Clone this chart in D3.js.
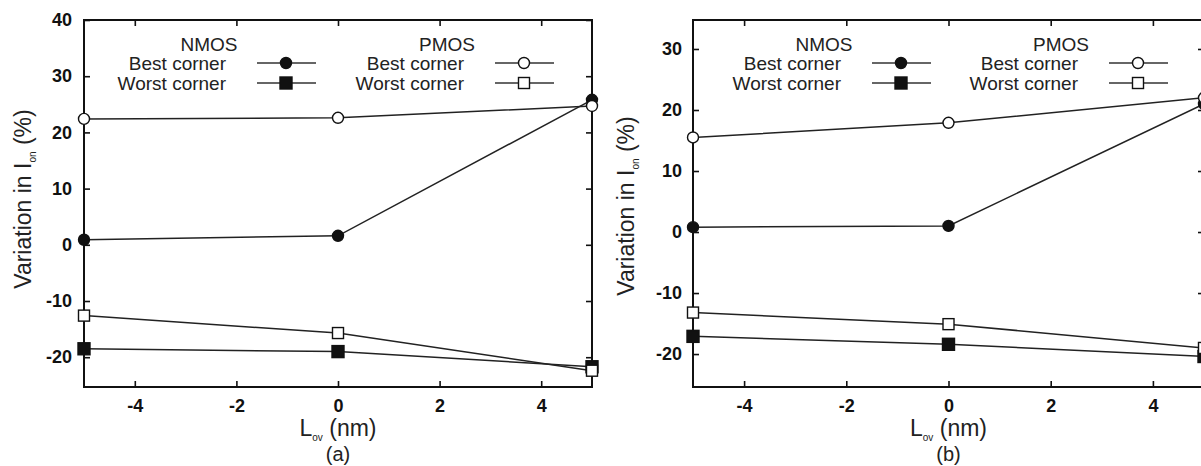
<!DOCTYPE html>
<html>
<head>
<meta charset="utf-8">
<script src="https://cdn.jsdelivr.net/npm/d3@7"></script>
<style>
  body { margin: 0; background: #fff; }
  svg { font-family: "Liberation Sans", Arial, sans-serif; }
  .tick text { font-weight: bold; font-size: 18px; fill: #111; }
</style>
</head>
<body>
<svg id="chart" width="1201" height="466"></svg>
<script>
// L_ov values (nm)
const lov = [-5, 0, 5];
const xTicks = [-4, -2, 0, 2, 4];

// panel (a)
const nmosBestA = [0.9, 1.6, 25.8];
const nmosWorstA = [-18.5, -19.0, -21.7];
const pmosBestA = [22.4, 22.6, 24.7];
const pmosWorstA = [-12.6, -15.7, -22.4];
const yTicksA = [-20, -10, 0, 10, 20, 30, 40];

// panel (b)
const nmosBestB = [0.8, 1.0, 21.0];
const nmosWorstB = [-17.1, -18.4, -20.4];
const pmosBestB = [15.5, 17.9, 22.0];
const pmosWorstB = [-13.2, -15.1, -19.0];
const yTicksB = [-20, -10, 0, 10, 20, 30];

const seriesNames = ["NMOS best", "NMOS worst", "PMOS best", "PMOS worst"];

const svg = d3.select("#chart");
const fmt = d => String(d);   // plain hyphen minus like the original

function drawMarker(g, type, x, y) {
  if (type === "NMOS best" || type === "PMOS best") {
    g.append("circle")
      .attr("cx", x).attr("cy", y).attr("r", 5.5)
      .attr("fill", type === "NMOS best" ? "#111" : "#fff")
      .attr("stroke", "#111").attr("stroke-width", 1.4);
  } else {
    const s = type === "NMOS worst" ? 12 : 11;
    g.append("rect")
      .attr("x", x - s / 2).attr("y", y - s / 2)
      .attr("width", s).attr("height", s)
      .attr("fill", type === "NMOS worst" ? "#111" : "#fff")
      .attr("stroke", "#111").attr("stroke-width", 1.4);
  }
}

function drawPanel(cfg) {
  const x = d3.scaleLinear().domain([-5, 5]).range([cfg.left, cfg.right]);
  const y = d3.scaleLinear().domain(cfg.yDomain).range([cfg.bottom, cfg.top]);
  const g = svg.append("g");

  // inward ticks on all four sides
  g.append("g")
    .attr("transform", `translate(0,${cfg.bottom})`)
    .call(d3.axisBottom(x).tickValues(xTicks).tickSize(-6).tickPadding(12).tickFormat(fmt))
    .call(a => a.select(".domain").remove());
  g.append("g")
    .attr("transform", `translate(0,${cfg.top})`)
    .call(d3.axisTop(x).tickValues(xTicks).tickSize(-6).tickFormat(""))
    .call(a => a.select(".domain").remove());
  g.append("g")
    .attr("transform", `translate(${cfg.left},0)`)
    .call(d3.axisLeft(y).tickValues(cfg.yTicks).tickSize(-6).tickPadding(cfg.yPad).tickFormat(fmt))
    .call(a => a.select(".domain").remove());
  g.append("g")
    .attr("transform", `translate(${cfg.right},0)`)
    .call(d3.axisRight(y).tickValues(cfg.yTicks).tickSize(-6).tickFormat(""))
    .call(a => a.select(".domain").remove());
  g.selectAll(".tick line").attr("stroke", "#111").attr("stroke-width", 1.6);

  g.append("rect")
    .attr("x", cfg.left).attr("y", cfg.top)
    .attr("width", cfg.right - cfg.left).attr("height", cfg.bottom - cfg.top)
    .attr("fill", "none").attr("stroke", "#111").attr("stroke-width", 2);

  const line = d3.line().x((d, i) => x(lov[i])).y(d => y(d));
  const dataG = g.append("g");
  cfg.series.forEach(vals => {
    dataG.append("path")
      .attr("d", line(vals))
      .attr("fill", "none").attr("stroke", "#222").attr("stroke-width", 1.5);
  });
  cfg.series.forEach((vals, k) => {
    vals.forEach((v, i) => drawMarker(dataG, seriesNames[k], x(lov[i]), y(v)));
  });

  // legend
  const lg = g.append("g").attr("font-size", 19).attr("fill", "#222");
  [["NMOS", cfg.nmosX, ["NMOS best", "NMOS worst"]],
   ["PMOS", cfg.pmosX, ["PMOS best", "PMOS worst"]]].forEach(([title, tx, keys]) => {
    lg.append("text").attr("x", tx - 17).attr("y", 51).attr("text-anchor", "middle").text(title);
    ["Best corner", "Worst corner"].forEach((lab, i) => {
      const yy = 63 + i * 20;
      lg.append("text").attr("x", tx).attr("y", yy + 7).attr("text-anchor", "end").text(lab);
      lg.append("line")
        .attr("x1", tx + 31).attr("x2", tx + 90).attr("y1", yy).attr("y2", yy)
        .attr("stroke", "#333").attr("stroke-width", 1.6);
      drawMarker(lg, keys[i], tx + 60, yy);
    });
  });

  // axis titles
  const yl = g.append("text")
    .attr("transform", `translate(${cfg.yLabelX},${cfg.yLabelY}) rotate(-90)`)
    .attr("text-anchor", "middle").attr("font-size", 23).attr("fill", "#222");
  yl.append("tspan").text("Variation in I");
  yl.append("tspan").attr("font-size", 10).attr("dy", 5).text("on");
  yl.append("tspan").attr("dy", -5).text(" (%)");

  const cx = x(0);
  const xl = g.append("text")
    .attr("x", cx).attr("y", 436)
    .attr("text-anchor", "middle").attr("font-size", 23).attr("fill", "#222");
  xl.append("tspan").text("L");
  xl.append("tspan").attr("font-size", 10).attr("dy", 5).text("ov");
  xl.append("tspan").attr("dy", -5).text(" (nm)");

  g.append("text")
    .attr("x", cx).attr("y", 461)
    .attr("text-anchor", "middle").attr("font-size", 20).attr("fill", "#222")
    .text(cfg.caption);
}

drawPanel({
  left: 84, right: 592, top: 20, bottom: 387,
  yDomain: [-25.3, 40], yTicks: yTicksA, yPad: 12,
  series: [nmosBestA, nmosWorstA, pmosBestA, pmosWorstA],
  nmosX: 226, pmosX: 464, yLabelX: 31, yLabelY: 199, caption: "(a)"
});

drawPanel({
  left: 693, right: 1204, top: 20, bottom: 387,
  yDomain: [-25.4, 34.75], yTicks: yTicksB, yPad: 11,
  series: [nmosBestB, nmosWorstB, pmosBestB, pmosWorstB],
  nmosX: 841, pmosX: 1078, yLabelX: 634, yLabelY: 206, caption: "(b)"
});
</script>
</body>
</html>
